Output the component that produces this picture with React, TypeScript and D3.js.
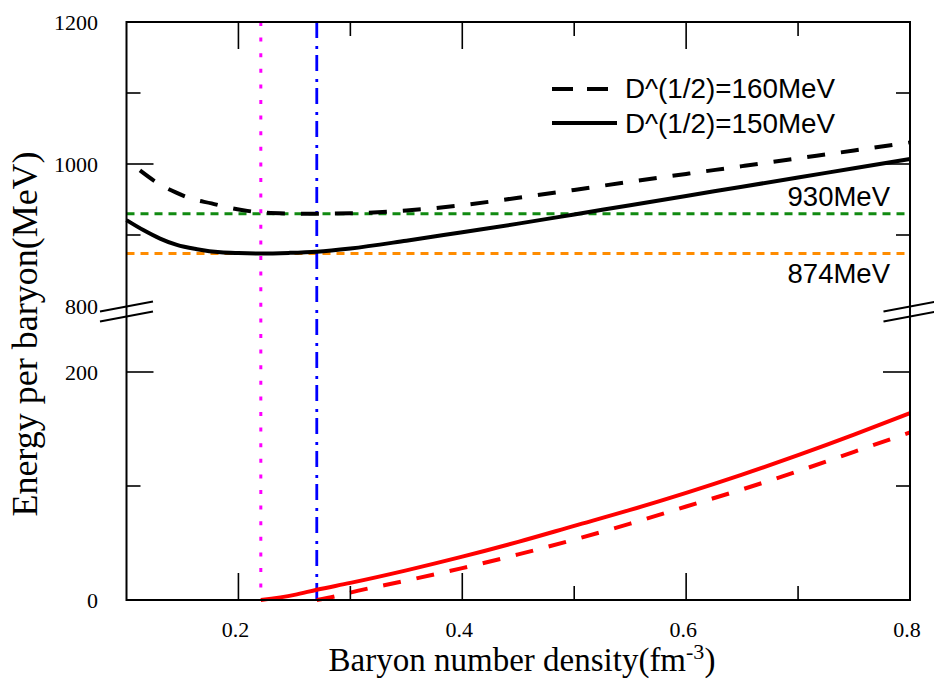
import React from "react";
import * as d3 from "d3";

// ---- data ----
const nBlack150 = [0.1, 0.115, 0.13, 0.145, 0.163, 0.184, 0.2, 0.22, 0.245, 0.27, 0.3, 0.35, 0.4, 0.45, 0.5, 0.55, 0.6, 0.65, 0.7, 0.75, 0.8];
const eBlack150 = [921, 907, 895, 886, 880, 875.6, 874.5, 874, 874.8, 876.5, 881, 892, 904, 916, 929, 942, 955, 968, 981, 994, 1007];

const nBlack160 = [0.112, 0.128, 0.144, 0.158, 0.176, 0.19, 0.208, 0.222, 0.245, 0.27, 0.3, 0.35, 0.4, 0.45, 0.5, 0.55, 0.6, 0.65, 0.7, 0.75, 0.8];
const eBlack160 = [991, 973, 960, 951, 944.5, 939, 934, 931.5, 930.3, 930, 930.5, 934.5, 942, 952.5, 963.5, 975, 986, 997, 1008, 1019, 1030.5];

const nRed150 = [0.22, 0.25, 0.27, 0.3, 0.35, 0.4, 0.45, 0.5, 0.55, 0.6, 0.65, 0.7, 0.75, 0.8];
const pRed150 = [0, 4.5, 9, 15, 26, 38, 51, 65, 79, 94, 110, 127, 145, 164];

const nRed160 = [0.27, 0.29, 0.3, 0.35, 0.4, 0.45, 0.5, 0.55, 0.6, 0.65, 0.7, 0.75, 0.8];
const pRed160 = [0, 4, 6.5, 17, 28, 40, 53, 67, 82, 97, 113, 130, 147];

const refLines = [930, 874];
const refLabels = ["930MeV", "874MeV"];
const vLines = [0.22, 0.27];

const xMajor = [0.2, 0.4, 0.6, 0.8];
const xMinor = [0.3, 0.5, 0.7];
const yUpperMajor = [1000, 1200];
const yUpperMinor = [900, 1100];
const yLowerMajor = [0, 200];
const yLowerMinor = [100];
const legendLabels = ["D^(1/2)=160MeV", "D^(1/2)=150MeV"];

export default function App() {
  const L = 126.5, R = 910, T = 22, B = 600;
  const x = d3.scaleLinear().domain([0.1, 0.8]).range([L, R]);
  const yU = d3.scaleLinear().domain([800, 1200]).range([306, 22]);
  const yL = d3.scaleLinear().domain([0, 200]).range([600, 372]);

  const lineU = (ns: number[], es: number[]) =>
    d3.line<number>().x((_, i) => x(ns[i])).y((d) => yU(d)).curve(d3.curveMonotoneX)(es) || "";
  const lineL = (ns: number[], es: number[]) =>
    d3.line<number>().x((_, i) => x(ns[i])).y((d) => yL(d)).curve(d3.curveMonotoneX)(es) || "";

  const serif = "'Liberation Serif', 'Times New Roman', serif";
  const sans = "'Liberation Sans', Arial, sans-serif";
  const major = 27, minor = 14;

  return (
    <svg width={934} height={682} style={{ position: "absolute", left: 0, top: 0, background: "#fff" }}>
      <rect x={0} y={0} width={934} height={682} fill="#fff" />
      {/* reference horizontal lines */}
      <line x1={L} x2={R} y1={yU(refLines[0])} y2={yU(refLines[0])} stroke="#118a11" strokeWidth={3} strokeDasharray="8 6" />
      <line x1={L} x2={R} y1={yU(refLines[1])} y2={yU(refLines[1])} stroke="#ff8c00" strokeWidth={3} strokeDasharray="8 6" />
      {/* vertical lines */}
      <line x1={x(vLines[0])} x2={x(vLines[0])} y1={T} y2={B} stroke="#ff00ff" strokeWidth={3} strokeDasharray="4 11.6" />
      <line x1={x(vLines[1])} x2={x(vLines[1])} y1={T} y2={B} stroke="#0000ff" strokeWidth={2.8} strokeDasharray="16 8 3 6" />

      {/* curves */}
      <path d={lineU(nBlack150, eBlack150)} fill="none" stroke="#000" strokeWidth={4} />
      <path d={lineU(nBlack160, eBlack160)} fill="none" stroke="#000" strokeWidth={4} strokeDasharray="18 16" />
      <path d={lineL(nRed150, pRed150)} fill="none" stroke="#ff0000" strokeWidth={4} />
      <path d={lineL(nRed160, pRed160)} fill="none" stroke="#ff0000" strokeWidth={4} strokeDasharray="18 16" />

      {/* frame */}
      <rect x={L} y={T} width={R - L} height={B - T} fill="none" stroke="#000" strokeWidth={2} />

      {/* x ticks */}
      {xMajor.map((v) => (
        <g key={"xm" + v}>
          <line x1={x(v)} x2={x(v)} y1={B} y2={B - major} stroke="#000" strokeWidth={1.6} />
          <line x1={x(v)} x2={x(v)} y1={T} y2={T + major} stroke="#000" strokeWidth={1.6} />
          <text x={x(v) - 3} y={637} textAnchor="middle" fontFamily={serif} fontSize={22}>{v.toFixed(1)}</text>
        </g>
      ))}
      {xMinor.map((v) => (
        <g key={"xn" + v}>
          <line x1={x(v)} x2={x(v)} y1={B} y2={B - minor} stroke="#000" strokeWidth={1.6} />
          <line x1={x(v)} x2={x(v)} y1={T} y2={T + minor} stroke="#000" strokeWidth={1.6} />
        </g>
      ))}
      {/* y ticks upper */}
      {yUpperMajor.map((v) => (
        <g key={"yu" + v}>
          <line x1={L} x2={L + major} y1={yU(v)} y2={yU(v)} stroke="#000" strokeWidth={1.6} />
          <line x1={R} x2={R - major} y1={yU(v)} y2={yU(v)} stroke="#000" strokeWidth={1.6} />
          <text x={98} y={yU(v) + 7.5} textAnchor="end" fontFamily={serif} fontSize={22}>{v}</text>
        </g>
      ))}
      {yUpperMinor.map((v) => (
        <g key={"yun" + v}>
          <line x1={L} x2={L + minor} y1={yU(v)} y2={yU(v)} stroke="#000" strokeWidth={1.6} />
          <line x1={R} x2={R - minor} y1={yU(v)} y2={yU(v)} stroke="#000" strokeWidth={1.6} />
        </g>
      ))}
      <text x={98} y={yU(800) + 7.5} textAnchor="end" fontFamily={serif} fontSize={22}>800</text>
      {yLowerMajor.map((v) => (
        <g key={"yl" + v}>
          <line x1={L} x2={L + major} y1={yL(v)} y2={yL(v)} stroke="#000" strokeWidth={1.6} />
          <line x1={R} x2={R - major} y1={yL(v)} y2={yL(v)} stroke="#000" strokeWidth={1.6} />
          <text x={98} y={yL(v) + 7.5} textAnchor="end" fontFamily={serif} fontSize={22}>{v}</text>
        </g>
      ))}
      {yLowerMinor.map((v) => (
        <g key={"yln" + v}>
          <line x1={L} x2={L + minor} y1={yL(v)} y2={yL(v)} stroke="#000" strokeWidth={1.6} />
          <line x1={R} x2={R - minor} y1={yL(v)} y2={yL(v)} stroke="#000" strokeWidth={1.6} />
        </g>
      ))}

      {/* axis break marks */}
      {[L, R].map((ax) => (
        <g key={"brk" + ax}>
          <line x1={ax - 26.5} y1={311.5} x2={ax + 26.5} y2={301.5} stroke="#000" strokeWidth={2} />
          <line x1={ax - 26.5} y1={321.5} x2={ax + 26.5} y2={311.5} stroke="#000" strokeWidth={2} />
        </g>
      ))}

      {/* legend */}
      <line x1={552} x2={608} y1={89} y2={89} stroke="#000" strokeWidth={4} strokeDasharray="21 14" />
      <text x={625} y={98} fontFamily={sans} fontSize={27.8}>{legendLabels[0]}</text>
      <line x1={552} x2={617} y1={123} y2={123} stroke="#000" strokeWidth={4} />
      <text x={625} y={133} fontFamily={sans} fontSize={27.8}>{legendLabels[1]}</text>

      {/* ref labels */}
      <text x={890} y={206} textAnchor="end" fontFamily={sans} fontSize={27.5}>{refLabels[0]}</text>
      <text x={890} y={283} textAnchor="end" fontFamily={sans} fontSize={27.5}>{refLabels[1]}</text>

      {/* axis titles */}
      <text transform="translate(37,334) rotate(-90)" textAnchor="middle" fontFamily={serif} fontSize={36}>Energy per baryon(MeV)</text>
      <text x={522} y={671} textAnchor="middle" fontFamily={serif} fontSize={33}>
        Baryon number density(fm<tspan fontSize={22} dy={-12}>-3</tspan><tspan dy={12}>)</tspan>
      </text>
    </svg>
  );
}
